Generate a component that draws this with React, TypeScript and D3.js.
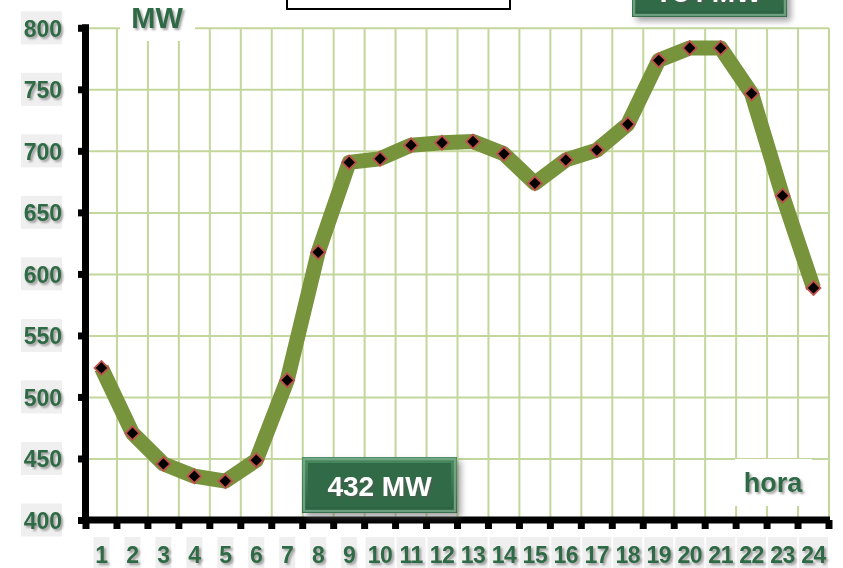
import { useRef, useEffect } from "react";
import * as d3 from "d3";

const hours = ["1", "2", "3", "4", "5", "6", "7", "8", "9", "10", "11", "12", "13", "14", "15", "16", "17", "18", "19", "20", "21", "22", "23", "24"];
const demandMW = [524, 471, 446, 436, 432, 449, 514, 618, 691, 694, 705, 707, 708, 698, 674, 693, 701, 722, 774, 784, 784, 747, 664, 589];
const yTicks = [400, 450, 500, 550, 600, 650, 700, 750, 800];
const minLabel = "432 MW";
const maxLabel = "784 MW";

const WIDTH = 843;
const HEIGHT = 568;
const GREEN_TEXT = "#2f6b45";
const GRID = "#c3d69b";
const FONT = "'Liberation Sans', Arial, sans-serif";

export default function App() {
  const ref = useRef<SVGSVGElement>(null);

  useEffect(() => {
    if (!ref.current) return;
    const svg = d3.select(ref.current);
    svg.selectAll("*").remove();

    const x = d3.scaleBand<string>().domain(hours).range([86, 829]);
    const y = d3.scaleLinear().domain([400, 800]).range([520.5, 28.3]);
    const bounds = d3.range(hours.length + 1).map((i) => 86 + i * x.step());

    const defs = svg.append("defs");
    const sh = defs.append("filter").attr("id", "txtShadow").attr("x", "-20%").attr("y", "-20%").attr("width", "150%").attr("height", "150%");
    sh.append("feDropShadow").attr("dx", 2).attr("dy", 2).attr("stdDeviation", 1.2).attr("flood-color", "#555").attr("flood-opacity", 0.55);
    const bsh = defs.append("filter").attr("id", "boxShadow").attr("x", "-20%").attr("y", "-20%").attr("width", "150%").attr("height", "150%");
    bsh.append("feDropShadow").attr("dx", 4).attr("dy", 4).attr("stdDeviation", 3).attr("flood-color", "#666").attr("flood-opacity", 0.6);
    const grad = defs.append("linearGradient").attr("id", "boxGrad").attr("x1", 0).attr("y1", 0).attr("x2", 0).attr("y2", 1);
    grad.append("stop").attr("offset", "0%").attr("stop-color", "#4a8a60");
    grad.append("stop").attr("offset", "100%").attr("stop-color", "#2a6040");

    // grid
    const grid = svg.append("g").attr("stroke", GRID).attr("stroke-width", 2);
    grid.selectAll("line.h")
      .data(yTicks.slice(1))
      .join("line")
      .attr("x1", 86).attr("x2", 829)
      .attr("y1", (d) => y(d)).attr("y2", (d) => y(d));
    grid.selectAll("line.v")
      .data(bounds.slice(1))
      .join("line")
      .attr("x1", (d) => d).attr("x2", (d) => d)
      .attr("y1", y(800)).attr("y2", y(400));

    // white label holes in the grid
    svg.append("rect").attr("x", 120).attr("y", 0).attr("width", 75).attr("height", 41).attr("fill", "#fff");
    svg.append("rect").attr("x", 735).attr("y", 459).attr("width", 77).attr("height", 47).attr("fill", "#fff");

    svg.append("text")
      .attr("x", 157).attr("y", 28)
      .attr("text-anchor", "middle")
      .attr("font-family", FONT).attr("font-weight", "bold").attr("font-size", 29)
      .attr("fill", GREEN_TEXT).attr("filter", "url(#txtShadow)")
      .text("MW");
    svg.append("text")
      .attr("x", 773).attr("y", 492)
      .attr("text-anchor", "middle")
      .attr("font-family", FONT).attr("font-weight", "bold").attr("font-size", 27)
      .attr("fill", GREEN_TEXT).attr("filter", "url(#txtShadow)")
      .text("hora");

    // axes
    const ax = svg.append("g").attr("stroke", "#000").attr("stroke-width", 7);
    ax.append("line").attr("x1", 85.5).attr("x2", 85.5).attr("y1", y(800) - 4).attr("y2", 523.5);
    ax.append("line").attr("x1", 82).attr("x2", 830).attr("y1", 520).attr("y2", 520);
    ax.selectAll("line.yt")
      .data(yTicks)
      .join("line")
      .attr("x1", 78).attr("x2", 86)
      .attr("y1", (d) => y(d)).attr("y2", (d) => y(d));
    ax.selectAll("line.xt")
      .data(bounds)
      .join("line")
      .attr("x1", (d) => d).attr("x2", (d) => d)
      .attr("y1", 520).attr("y2", 529);

    // y tick labels
    const yl = svg.append("g");
    yl.selectAll("rect")
      .data(yTicks)
      .join("rect")
      .attr("x", 21).attr("y", (d) => y(d) - 17)
      .attr("width", 41).attr("height", 33)
      .attr("fill", "#efefef");
    yl.selectAll("text")
      .data(yTicks)
      .join("text")
      .attr("x", 62).attr("y", (d) => y(d) + 8.5)
      .attr("text-anchor", "end")
      .attr("font-family", FONT).attr("font-weight", "bold").attr("font-size", 23)
      .attr("fill", GREEN_TEXT).attr("filter", "url(#txtShadow)")
      .text((d) => d);

    // x tick labels
    const xl = svg.append("g");
    xl.selectAll("rect")
      .data(hours)
      .join("rect")
      .attr("x", (d) => x(d)! + x.bandwidth() / 2 - (d.length * 13 + 3) / 2)
      .attr("y", 537)
      .attr("width", (d) => d.length * 13 + 3)
      .attr("height", 34)
      .attr("fill", "#efefef");
    xl.selectAll("text")
      .data(hours)
      .join("text")
      .attr("x", (d) => x(d)! + x.bandwidth() / 2)
      .attr("y", 563)
      .attr("text-anchor", "middle")
      .attr("font-family", FONT).attr("font-weight", "bold").attr("font-size", 23)
      .attr("letter-spacing", -0.5)
      .attr("fill", GREEN_TEXT).attr("filter", "url(#txtShadow)")
      .text((d) => d);

    // series line
    const line = d3.line<number>()
      .x((_, i) => x(hours[i])! + x.bandwidth() / 2)
      .y((d) => y(d));
    svg.append("path")
      .datum(demandMW)
      .attr("d", line)
      .attr("fill", "none")
      .attr("stroke", "#77933c")
      .attr("stroke-width", 15)
      .attr("stroke-linejoin", "round")
      .attr("stroke-linecap", "butt");

    const diamond = d3.symbol().type(d3.symbolSquare).size(96);
    svg.append("g")
      .selectAll("path")
      .data(demandMW)
      .join("path")
      .attr("d", diamond)
      .attr("transform", (d, i) => `translate(${x(hours[i])! + x.bandwidth() / 2},${y(d)}) rotate(45)`)
      .attr("fill", "#000")
      .attr("stroke", "#c0504d")
      .attr("stroke-width", 1.8);

    // callout boxes
    const callout = (bx: number, by: number, bw: number, bh: number, label: string, ty: number) => {
      const g = svg.append("g");
      g.append("rect").attr("x", bx).attr("y", by).attr("width", bw).attr("height", bh)
        .attr("fill", "url(#boxGrad)").attr("filter", "url(#boxShadow)");
      g.append("rect").attr("x", bx + 2).attr("y", by + 2).attr("width", bw - 4).attr("height", bh - 4)
        .attr("fill", "none").attr("stroke", "#7aae8c").attr("stroke-width", 2.5).attr("stroke-opacity", 0.8);
      g.append("rect").attr("x", bx + 6).attr("y", by + 6).attr("width", bw - 12).attr("height", bh - 12)
        .attr("fill", "#316a46");
      g.append("text")
        .attr("x", bx + bw / 2).attr("y", ty)
        .attr("text-anchor", "middle")
        .attr("font-family", FONT).attr("font-weight", "bold").attr("font-size", 28)
        .attr("fill", "#fff").attr("filter", "url(#txtShadow)")
        .text(label);
    };
    callout(302, 457, 155, 56, minLabel, 496);
    callout(632, -39, 155, 56, maxLabel, 2);

    // title box, cut off at the top
    svg.append("rect")
      .attr("x", 287).attr("y", -30).attr("width", 223).attr("height", 39)
      .attr("fill", "#fff").attr("stroke", "#000").attr("stroke-width", 2);
  }, []);

  return (
    <svg
      ref={ref}
      width={WIDTH}
      height={HEIGHT}
      style={{ position: "absolute", left: 0, top: 0, background: "#fff" }}
    />
  );
}
